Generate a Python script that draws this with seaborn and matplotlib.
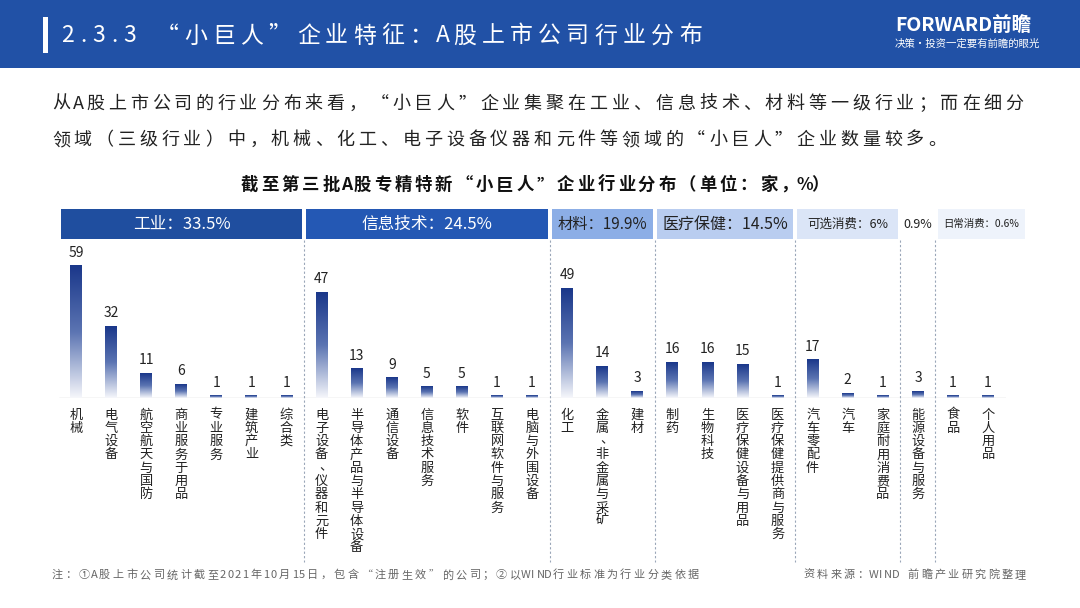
import numpy as np
import pandas as pd
import matplotlib
matplotlib.use("Agg")
import matplotlib.pyplot as plt
import seaborn as sns
from matplotlib.colors import LinearSegmentedColormap
from matplotlib.patches import Rectangle
from matplotlib.lines import Line2D
from matplotlib.transforms import blended_transform_factory

# data
industries = [
    "机械", "电气设备", "航空航天与国防", "商业服务于用品", "专业服务", "建筑产业", "综合类",
    "电子设备、仪器和元件", "半导体产品与半导体设备", "通信设备", "信息技术服务", "软件",
    "互联网软件与服务", "电脑与外围设备",
    "化工", "金属、非金属与采矿", "建材",
    "制药", "生物科技", "医疗保健设备与用品", "医疗保健提供商与服务",
    "汽车零配件", "汽车", "家庭耐用消费品",
    "能源设备与服务",
    "食品", "个人用品",
]
counts = [59, 32, 11, 6, 1, 1, 1,
          47, 13, 9, 5, 5, 1, 1,
          49, 14, 3,
          16, 16, 15, 1,
          17, 2, 1,
          3,
          1, 1]
sector_labels = ["工业：33.5%", "信息技术：24.5%", "材料：19.9%", "医疗保健：14.5%",
                 "可选消费：6%", "0.9%", "日常消费：0.6%"]
sector_sizes = [7, 7, 3, 4, 3, 1, 2]

paragraph = [
    "从A股上市公司的行业分布来看，“小巨人”企业集聚在工业、信息技术、材料等一级行业；而在细分",
    "领域（三级行业）中，机械、化工、电子设备仪器和元件等领域的“小巨人”企业数量较多。",
]
chart_title = "截至第三批A股专精特新“小巨人”企业行业分布（单位：家，%）"
page_title = "2.3.3 “小巨人”企业特征：A股上市公司行业分布"
note_left = "注：①A股上市公司统计截至2021年10月15日，包含“注册生效”的公司；②以WIND行业标准为行业分类依据"
note_right = "资料来源：WIND 前瞻产业研究院整理"

sns.set_theme(style="white")
plt.rcParams["font.family"] = ["Noto Sans CJK SC", "DejaVu Sans"]

W, H = 1080, 608
fig = plt.figure(figsize=(W / 100, H / 100), dpi=100)
fig.patch.set_facecolor("white")


def fx(x):
    return x / W


def fy(y):
    return 1 - y / H


def spaced(x, y, s, adv, size, color="#222222", weight="normal", ha="left"):
    # place characters one by one to mimic the letter spacing of the slide
    widths = [0.55 if ord(c) < 128 else 1.0 for c in s]
    total = sum(widths) * adv
    if ha == "center":
        cur = x - total / 2
    elif ha == "right":
        cur = x - total
    else:
        cur = x
    for c, w in zip(s, widths):
        fig.text(fx(cur + w * adv / 2), fy(y), c, ha="center", va="center",
                 fontsize=size, color=color, fontweight=weight)
        cur += w * adv


# header band
fig.add_artist(Rectangle((0, fy(68)), 1, 68 / H, transform=fig.transFigure,
                         facecolor="#2151a6", edgecolor="none", zorder=0))
fig.add_artist(Rectangle((fx(43), fy(53)), 5 / W, 36 / H, transform=fig.transFigure,
                         facecolor="white", edgecolor="none"))
spaced(60, 36, page_title, 28.2, 16.5, color="white")
fig.text(fx(895), fy(26), "FORWARD前瞻", fontsize=14, color="white",
         fontweight="bold", ha="left", va="center")
fig.text(fx(895), fy(44), "决策·投资一定要有前瞻的眼光", fontsize=7.5, color="white",
         ha="left", va="center")

# intro paragraph and chart title
for i, line in enumerate(paragraph):
    spaced(50, 104 + i * 36, line, 21.9, 13)
spaced(535, 185, chart_title, 20.3, 12.5, color="#111111", weight="bold", ha="center")

# bar chart
spacing = 35.08
ax = fig.add_axes([fx(58.5), fy(398), 27 * spacing / W, 160 / H])
df = pd.DataFrame({"industry": industries, "count": counts})
sns.barplot(data=df, x="industry", y="count", order=industries, ax=ax,
            width=0.34, color="#1c3b8c")
ymax = 160 / 2.24
cmap = LinearSegmentedColormap.from_list("bar", ["#f6f7fb", "#5b74b2", "#1a378a"])
grad = np.linspace(0, 1, 256).reshape(-1, 1)
for patch in ax.patches:
    x0, w, h = patch.get_x(), patch.get_width(), patch.get_height()
    patch.set_visible(False)
    ax.imshow(grad, cmap=cmap, origin="lower", aspect="auto",
              extent=[x0, x0 + w, 0, max(h, 0.8)], zorder=2)
for i, v in enumerate(counts):
    ax.annotate(str(v), (i, max(v, 0.8)), xytext=(0, 4.5), textcoords="offset points",
                ha="center", va="bottom", fontsize=10, color="#222222")
ax.set_xlim(-0.5, 26.5)
ax.set_ylim(0, ymax)
ax.set(xticks=[], yticks=[], xlabel="", ylabel="")
for sp in ax.spines.values():
    sp.set_visible(False)
ax.patch.set_alpha(0)
ax.axhline(0, color="#d4d4d4", lw=1, zorder=1)

# vertical category labels, one character per line
blend = blended_transform_factory(ax.transData, fig.transFigure)
for i, name in enumerate(industries):
    for j, c in enumerate(name):
        dx, dy = (0.12, -1.5) if c == "、" else (0, 0)
        fig.text(i + dx, fy(415 + j * 13.3 + dy), c, transform=blend, ha="center",
                 va="center", fontsize=9.5, color="#222222")

# sector boxes and dotted dividers
bounds = np.cumsum([0] + sector_sizes) - 0.5
box_colors = ["#1f4e9f", "#2458b4", "#8caee6", "#b9cdf0", "#dbe5f7", "white", "#eef3fb"]
text_colors = ["white", "white", "#222222", "#222222", "#222222", "#222222", "#222222"]
text_sizes = [12, 12, 11, 11.5, 9, 9, 7.5]
for k, lab in enumerate(sector_labels):
    left = bounds[k] + 0.06
    right = bounds[k + 1] - 0.06
    if k == 0:
        left = -0.43
    if k == len(sector_labels) - 1:
        right = 27.05
    fig.add_artist(Rectangle((left, fy(239)), right - left, 30 / H, transform=blend,
                             facecolor=box_colors[k], edgecolor="none"))
    fig.text((left + right) / 2, fy(224), lab, transform=blend, ha="center",
             va="center", fontsize=text_sizes[k], color=text_colors[k])
for b in bounds[1:-1]:
    fig.add_artist(Line2D([b, b], [fy(240), fy(562)], transform=blend,
                          color="#9aa6b8", lw=0.8, linestyle=(0, (2, 2))))

# footnotes
spaced(50, 575, note_left, 13.5, 8, color="#666666")
spaced(1027, 575, note_right, 13.4, 8, color="#666666", ha="right")

fig.savefig("out.png", dpi=100)
